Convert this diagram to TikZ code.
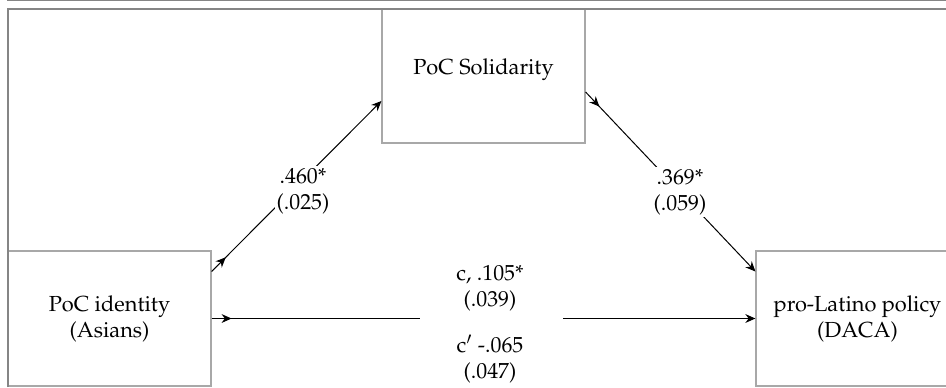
\documentclass[tikz,border=0pt]{standalone}
\usepackage[T1]{fontenc}
\usepackage{mathpazo}
\usepackage{tikz}
\usetikzlibrary{positioning,arrows.meta,decorations.markings}
\definecolor{frmgrey}{HTML}{858585}
\definecolor{boxgrey}{HTML}{A8A8A8}

\begin{document}
\begin{tikzpicture}[x=0.5pt,y=-0.5pt,
  var/.style={draw=boxgrey,line width=0.6pt,minimum width=101.5pt,minimum height=67.5pt,align=center,font=\fontsize{10.9}{13}\selectfont},
  coef/.style={fill=white,inner sep=1pt,align=center,font=\fontsize{10.9}{13}\selectfont},
  eff/.style={line width=0.5pt,-{Stealth[length=5pt,width=4.4pt]},postaction={decorate},
    decoration={markings,mark=at position 10pt with {\arrow{Stealth[length=5pt,width=4.4pt]}}}}
]
\useasboundingbox (0,0) rectangle (946,387);
\clip (0,0) rectangle (946,387);

% variables
\node[var,minimum height=67pt,text depth=9.2pt] (soli) at (483.5,76) {PoC Solidarity};
\node[var] (iden) at (109.5,318.5) {PoC identity\\(Asians)};
\node[var] (lati) at (857.5,318.5) {pro-Latino policy\\(DACA)};

% paths
\draw[eff] ([yshift=23.5pt]iden.east) -- ([yshift=-12.5pt]soli.west);
\draw[eff] ([yshift=-8pt]soli.east) -- ([yshift=23.5pt]lati.west);
\draw[eff,line width=0.6pt] (iden.east) -- (lati.west);

% coefficients
\node[coef] (a) at (303,191) {.460*\\(.025)};
\node[coef] (b) at (680,192) {.369*\\(.059)};
\node[coef,minimum width=71.5pt,minimum height=3pt,inner sep=0pt] (cgap) at (491.5,318.5) {};
\node[coef] (ctot) at (490,288) {c, .105*\\(.039)};
\node[coef] (cdir) at (490,359) {c$'$ -.065\\(.047)};

% frame
\draw[frmgrey,line width=0.7pt] (7,0.5) -- (946,0.5);
\draw[frmgrey,line width=1pt] (7.5,387) -- (7.5,8.8) -- (946,8.8);
\end{tikzpicture}
\end{document}
